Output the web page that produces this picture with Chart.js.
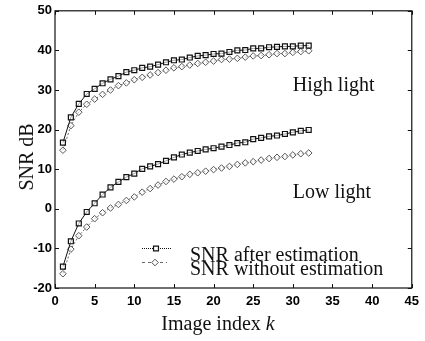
<!DOCTYPE html>
<html><head><meta charset="utf-8">
<script src="https://cdn.jsdelivr.net/npm/chart.js@4"></script>
<style>html,body{margin:0;padding:0;background:#fff;}#wrap{width:425px;height:341px;}</style>
</head><body><div id="wrap"><canvas id="c" width="425" height="341"></canvas></div>
<script>
const imageIndex = [1,2,3,4,5,6,7,8,9,10,11,12,13,14,15,16,17,18,19,20,21,22,23,24,25,26,27,28,29,30,31,32];
const highAfter = [16.7,23.1,26.5,29.0,30.3,31.7,32.7,33.5,34.5,35.0,35.6,35.9,36.4,37.0,37.5,37.7,38.2,38.6,38.8,39.1,39.2,39.6,40.0,40.1,40.5,40.5,40.8,40.9,41.0,41.0,41.2,41.2];
const highWithout = [14.8,21.0,24.4,26.4,27.7,28.9,30.0,31.1,31.8,32.6,33.2,33.8,34.4,35.0,35.6,35.9,36.3,36.7,37.0,37.3,37.7,37.8,38.0,38.3,38.6,38.7,38.9,39.2,39.2,39.5,39.7,39.9];
const lowAfter = [-14.6,-8.2,-3.7,-0.8,1.4,3.6,5.4,6.8,8.0,8.9,10.1,10.7,11.3,12.1,13.0,13.7,14.2,14.6,15.0,15.3,15.7,16.1,16.6,16.8,17.6,17.9,18.3,18.5,18.9,19.3,19.7,19.9];
const lowWithout = [-16.4,-10.2,-6.8,-4.6,-2.5,-1.0,0.2,1.1,2.1,3.0,4.2,5.1,6.0,6.9,7.5,8.1,8.7,9.1,9.5,9.9,10.3,10.7,11.2,11.6,11.9,12.3,12.7,13.0,13.2,13.6,13.9,14.1];
const xTicks = [0,5,10,15,20,25,30,35,40,45];
const yTicks = [-20,-10,0,10,20,30,40,50];
const legendLabels = ['SNR after estimation','SNR without estimation'];
const regionLabels = [{text:'High light', x:30, y:31}, {text:'Low light', x:30, y:4}];

const pts = arr => imageIndex.map((k,i)=>({x:k,y:arr[i]}));
const afterStyle = {borderColor:'#111', borderWidth:1, pointStyle:'rect', pointRadius:3.5, pointBorderColor:'#111', pointBackgroundColor:'rgba(255,255,255,0.6)', pointBorderWidth:1.2, fill:false, tension:0};
const withoutStyle = {borderColor:'#666', borderWidth:1, borderDash:[2,2], pointStyle:'rectRot', pointRadius:3.3, pointBorderColor:'#555', pointBackgroundColor:'rgba(255,255,255,0.6)', pointBorderWidth:1, fill:false, tension:0};

const serif = '"Liberation Serif", "Times New Roman", serif';
const FS = '20px ';

const deco = {
  id:'deco',
  afterDraw(chart){
    const {ctx, chartArea:a, scales:{x,y}} = chart;
    ctx.save();
    ctx.strokeStyle='#111'; ctx.lineWidth=1.2;
    ctx.strokeRect(a.left, a.top, a.right-a.left, a.bottom-a.top);
    ctx.lineWidth=1;
    const tl=4;
    ctx.beginPath();
    xTicks.forEach(v=>{const px=Math.round(x.getPixelForValue(v))+0.5;
      ctx.moveTo(px,a.bottom); ctx.lineTo(px,a.bottom-tl);
      ctx.moveTo(px,a.top); ctx.lineTo(px,a.top+tl);});
    yTicks.forEach(v=>{const py=Math.round(y.getPixelForValue(v))+0.5;
      ctx.moveTo(a.left,py); ctx.lineTo(a.left+tl,py);
      ctx.moveTo(a.right,py); ctx.lineTo(a.right-tl,py);});
    ctx.stroke();
    ctx.fillStyle='#111';
    ctx.font=FS+serif;
    ctx.textAlign='left'; ctx.textBaseline='middle';
    regionLabels.forEach(r=>ctx.fillText(r.text, x.getPixelForValue(r.x), y.getPixelForValue(r.y)));
    const ds = chart.data.datasets;
    const rows=[{y:248, x0:142, x1:171, mx:156},{y:262, x0:142, x1:167, mx:155}];
    rows.forEach((r,i)=>{
      const d=ds[i];
      ctx.save();
      ctx.strokeStyle=d.borderColor; ctx.lineWidth=1;
      ctx.setLineDash(i===0?[1,1]:[3,3]);
      ctx.beginPath(); ctx.moveTo(r.x0,r.y+0.5); ctx.lineTo(r.x1,r.y+0.5); ctx.stroke();
      ctx.restore();
      ctx.save(); ctx.fillStyle='#fff'; ctx.strokeStyle=d.pointBorderColor; ctx.lineWidth=d.pointBorderWidth;
      ctx.beginPath();
      if(i===0){const s=d.pointRadius*Math.SQRT1_2; ctx.rect(r.mx-s,r.y+0.5-s,2*s,2*s);}
      else {const s=d.pointRadius; ctx.moveTo(r.mx-s,r.y+0.5);ctx.lineTo(r.mx,r.y+0.5-s);ctx.lineTo(r.mx+s,r.y+0.5);ctx.lineTo(r.mx,r.y+0.5+s);ctx.closePath();}
      ctx.fill(); ctx.stroke(); ctx.restore();
      ctx.fillStyle='#111'; ctx.font=FS+serif; ctx.textAlign='left'; ctx.textBaseline='alphabetic';
      ctx.fillText(legendLabels[i], 190, r.y+13);
    });
    ctx.fillStyle='#111';
    ctx.textBaseline='alphabetic'; ctx.textAlign='left';
    const t1='Image index ';
    ctx.font=FS+serif; const w1=ctx.measureText(t1).width;
    ctx.font='italic '+FS+serif; const w2=ctx.measureText('k').width;
    const sx=218-(w1+w2)/2;
    ctx.font=FS+serif; ctx.fillText(t1,sx,330);
    ctx.font='italic '+FS+serif; ctx.fillText('k',sx+w1,330);
    ctx.save(); ctx.translate(33,157); ctx.rotate(-Math.PI/2);
    ctx.font=FS+serif; ctx.textAlign='center'; ctx.textBaseline='alphabetic';
    ctx.fillText('SNR dB',0,0); ctx.restore();
    ctx.restore();
  }
};

new Chart(document.getElementById('c'), {
  type:'line',
  data:{datasets:[
    Object.assign({label:legendLabels[0], data:pts(highAfter)}, afterStyle),
    Object.assign({label:legendLabels[1], data:pts(highWithout)}, withoutStyle),
    Object.assign({label:legendLabels[0]+' (low)', data:pts(lowAfter)}, afterStyle),
    Object.assign({label:legendLabels[1]+' (low)', data:pts(lowWithout)}, withoutStyle)
  ]},
  options:{
    responsive:false, animation:false, devicePixelRatio:1,
    layout:{padding:{top:4,right:6,left:0,bottom:0}},
    plugins:{legend:{display:false}, tooltip:{enabled:false}},
    scales:{
      x:{type:'linear', min:0, max:45,
         afterBuildTicks:s=>{s.ticks=xTicks.map(v=>({value:v}));},
         afterFit:s=>{s.height=53;},
         grid:{display:false, drawTicks:false}, border:{display:false},
         ticks:{padding:6, color:'#000', font:{family:'"Liberation Sans", Arial, sans-serif', weight:'bold', size:13}}},
      y:{type:'linear', min:-20, max:50,
         afterBuildTicks:s=>{s.ticks=yTicks.map(v=>({value:v}));},
         afterFit:s=>{s.width=55;},
         grid:{display:false, drawTicks:false}, border:{display:false},
         ticks:{padding:3, color:'#000', font:{family:'"Liberation Sans", Arial, sans-serif', weight:'bold', size:13}}}
    }
  },
  plugins:[deco]
});
</script></body></html>
